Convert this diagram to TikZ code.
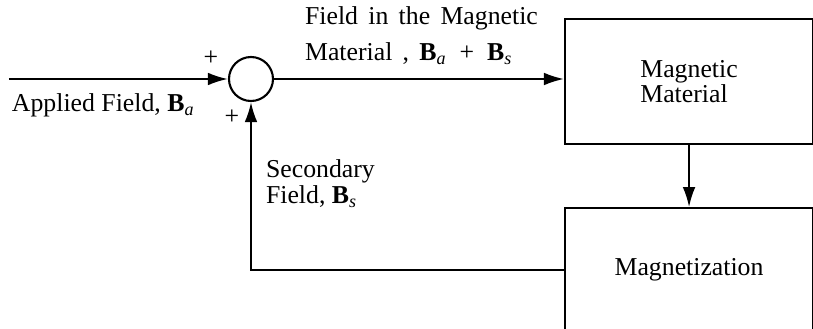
\documentclass[tikz,border=0pt]{standalone}
\usepackage{fontspec}
\setmainfont{Liberation Serif}
\usetikzlibrary{positioning,arrows.meta}
\newcommand{\fld}[1]{\textbf{B}\textsubscript{\textit{#1}}}

\begin{document}
\begin{tikzpicture}[
  font=\fontsize{11}{11}\selectfont,
  line width=0.9pt,
  node distance=0.93cm,
  block/.style={draw,minimum width=3.72cm,align=left},
  sumpt/.style={draw,circle,minimum size=0.66cm,inner sep=0pt},
  edge/.style={-{Latex[length=3mm,width=1.9mm]}},
  lbl/.style={inner sep=0pt,align=left},
  sgn/.style={inner sep=0pt,font=\fontsize{11}{11}\selectfont}
]
\useasboundingbox (0,0) rectangle (12.195,-4.935);

\node[sumpt] (sum) at (3.765,-1.185) {};
\coordinate[left=3.285cm of sum.west] (in);
\node[block,minimum height=1.875cm,anchor=north west] (mat) at (8.46,-0.27) {Magnetic\\Material};
\node[block,minimum height=1.845cm,below=of mat] (mz) {Magnetization};

\draw[edge] (in) -- (sum.west);
\draw[edge] (sum.east) -- (sum.east -| mat.west);
\draw[edge] (mat) -- (mz);
\draw[edge] (mz.west) -| (sum.south);

\node[sgn] (plusa) at ([shift={(-0.6,0.31)}]sum.center) {+};
\node[sgn] (plusb) at ([shift={(-0.285,-0.57)}]sum.center) {+};

\node[lbl,below right=0.2cm and 0.03cm of in] (applied) {Applied Field, \fld{a}};
\node[lbl,above right=0.2cm and 0.45cm of sum.east,font=\fontsize{11}{15.4}\selectfont,
  execute at begin node={\spaceskip=0.4em plus 0.1em}] (total)
  {Field in the Magnetic\\Material\ ,\ \fld{a}\enspace+\enspace\fld{s}};
\node[lbl,below right=0.85cm and 0.21cm of sum.south] (second) {Secondary\\Field, \fld{s}};
\end{tikzpicture}
\end{document}
